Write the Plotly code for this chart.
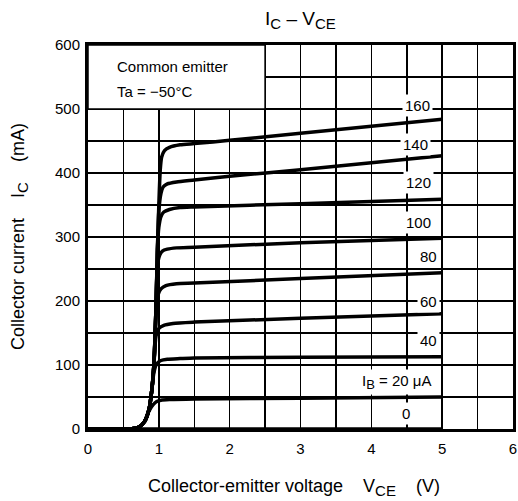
import plotly.graph_objects as go

# Base current labels (uA)
ib_labels = ["160", "140", "120", "100", "80", "60", "40",
             "I<sub><span style='font-size:13px'>B</span></sub> = 20 μA", "0"]
label_x = [4.65, 4.63, 4.66, 4.66, 4.8, 4.8, 4.8, 4.36, 4.49]
label_y = [506, 445, 385, 322, 270, 199, 139, 74, 25]

# Curves: V_CE (V) and I_C (mA)
vce_160 = [0, 0.6, 0.72, 0.8, 0.86, 0.9, 0.93, 0.96, 0.98, 1.0, 1.02, 1.04, 1.08, 1.15, 1.3, 1.5, 2.0, 3.0, 4.0, 5.0]
ic_160 = [0, 0, 3, 12, 30, 60, 100, 190, 280, 350, 405, 425, 435, 440, 444, 446, 451, 462, 473, 484]

vce_140 = [0, 0.6, 0.72, 0.8, 0.86, 0.9, 0.93, 0.96, 0.98, 1.0, 1.03, 1.06, 1.12, 1.25, 1.5, 2.0, 3.0, 4.0, 5.0]
ic_140 = [0, 0, 3, 12, 30, 60, 100, 190, 280, 340, 368, 378, 383, 386, 389, 395, 405, 416, 427]

vce_120 = [0, 0.6, 0.72, 0.8, 0.86, 0.9, 0.93, 0.96, 0.98, 1.0, 1.03, 1.07, 1.15, 1.3, 1.5, 3.0, 5.0]
ic_120 = [0, 0, 3, 12, 30, 60, 100, 190, 280, 315, 332, 339, 343, 346, 347, 352, 359]

vce_100 = [0, 0.6, 0.72, 0.8, 0.86, 0.9, 0.93, 0.96, 0.98, 1.01, 1.05, 1.12, 1.25, 1.5, 3.0, 5.0]
ic_100 = [0, 0, 3, 12, 30, 60, 100, 190, 255, 271, 278, 281, 283, 284, 291, 298]

vce_80 = [0, 0.6, 0.72, 0.8, 0.86, 0.9, 0.93, 0.96, 0.99, 1.03, 1.1, 1.25, 1.5, 3.0, 5.0]
ic_80 = [0, 0, 3, 12, 30, 60, 100, 180, 210, 219, 224, 227, 228, 235, 244]

vce_60 = [0, 0.6, 0.72, 0.8, 0.86, 0.9, 0.93, 0.96, 1.0, 1.07, 1.2, 1.5, 3.0, 5.0]
ic_60 = [0, 0, 3, 12, 30, 60, 100, 145, 157, 162, 165, 167, 173, 180]

vce_40 = [0, 0.6, 0.72, 0.8, 0.86, 0.9, 0.93, 0.97, 1.03, 1.12, 1.3, 1.5, 3.0, 5.0]
ic_40 = [0, 0, 3, 12, 30, 60, 88, 102, 107, 109, 110, 111, 112, 113]

vce_20 = [0, 0.6, 0.72, 0.8, 0.86, 0.92, 0.97, 1.03, 1.15, 1.5, 3.0, 5.0]
ic_20 = [0, 0, 3, 12, 28, 38, 43, 45, 46, 47, 48, 50]

vce_0 = [0, 5.0]
ic_0 = [0, 0]

curves = [
    (vce_160, ic_160), (vce_140, ic_140), (vce_120, ic_120), (vce_100, ic_100),
    (vce_80, ic_80), (vce_60, ic_60), (vce_40, ic_40), (vce_20, ic_20), (vce_0, ic_0),
]

FONT = "Liberation Sans, Arial, Helvetica, sans-serif"
BLACK = "black"

fig = go.Figure()
for xs, ys in curves:
    fig.add_trace(go.Scatter(
        x=xs, y=ys, mode="lines",
        line=dict(color=BLACK, width=3.5, shape="spline", smoothing=0.6),
        hoverinfo="skip", showlegend=False,
    ))

# white box for condition text (covers grid)
fig.add_shape(type="rect", x0=0, x1=2.5, y0=500, y1=600, xref="x", yref="y",
              fillcolor="white", line=dict(color=BLACK, width=1.5), layer="between")

sub = "<sub><span style='font-size:15px'>{}</span></sub>"

annotations = [
    dict(x=0.38, y=567, text="Common emitter", xanchor="left", yanchor="middle",
         showarrow=False, font=dict(size=15, color=BLACK, family=FONT)),
    dict(x=0.38, y=527, text="Ta = −50°C", xanchor="left", yanchor="middle",
         showarrow=False, font=dict(size=15, color=BLACK, family=FONT)),
    # title
    dict(xref="paper", yref="paper", x=0.50, y=(429 - 20) / 384, xanchor="center",
         yanchor="middle", showarrow=False,
         text="I" + sub.format("C") + " – V" + sub.format("CE"),
         font=dict(size=19, color=BLACK, family=FONT)),
    # x axis title
    dict(xref="paper", yref="paper", x=0.485, y=-(487 - 429) / 384, xanchor="center",
         yanchor="middle", showarrow=False,
         text="Collector-emitter voltage    V" + sub.format("CE") + "    (V)",
         font=dict(size=18, color=BLACK, family=FONT)),
    # y axis title
    dict(xref="paper", yref="paper", x=-(88 - 19) / 425, y=0.5, xanchor="center",
         yanchor="middle", showarrow=False, textangle=-90,
         text="Collector current    I" + sub.format("C") + "    (mA)",
         font=dict(size=18, color=BLACK, family=FONT)),
]
for t, lx, ly in zip(ib_labels, label_x, label_y):
    annotations.append(dict(
        x=lx, y=ly, text=t, showarrow=False, xanchor="center", yanchor="middle",
        bgcolor="white", borderpad=2,
        font=dict(size=15, color=BLACK, family=FONT),
    ))
fig.update_layout(annotations=annotations)

fig.update_layout(
    width=518, height=501,
    margin=dict(l=88, r=5, t=45, b=72, autoexpand=False),
    paper_bgcolor="white", plot_bgcolor="white",
    font=dict(family=FONT, color=BLACK, size=15),
    hovermode=False,
)
fig.update_xaxes(
    range=[0, 6], dtick=1, tick0=0, showgrid=True, gridcolor=BLACK, gridwidth=1.5,
    minor=dict(dtick=0.5, showgrid=True, gridcolor=BLACK, gridwidth=1.5),
    showline=True, linecolor=BLACK, linewidth=3, mirror=True, automargin=False,
    ticks="", zeroline=False, ticklabelstandoff=4,
    tickfont=dict(size=15, color=BLACK, family=FONT),
)
fig.update_yaxes(
    range=[0, 600], dtick=100, tick0=0, showgrid=True, gridcolor=BLACK, gridwidth=1.5,
    minor=dict(dtick=50, showgrid=True, gridcolor=BLACK, gridwidth=1.5),
    showline=True, linecolor=BLACK, linewidth=3, mirror=True, automargin=False,
    ticks="", zeroline=False, ticklabelstandoff=2,
    tickfont=dict(size=15, color=BLACK, family=FONT),
)

fig.write_html("out.html", config={"displayModeBar": False, "staticPlot": True},
               post_script="document.body.style.margin='0px';document.body.style.overflow='hidden';")
